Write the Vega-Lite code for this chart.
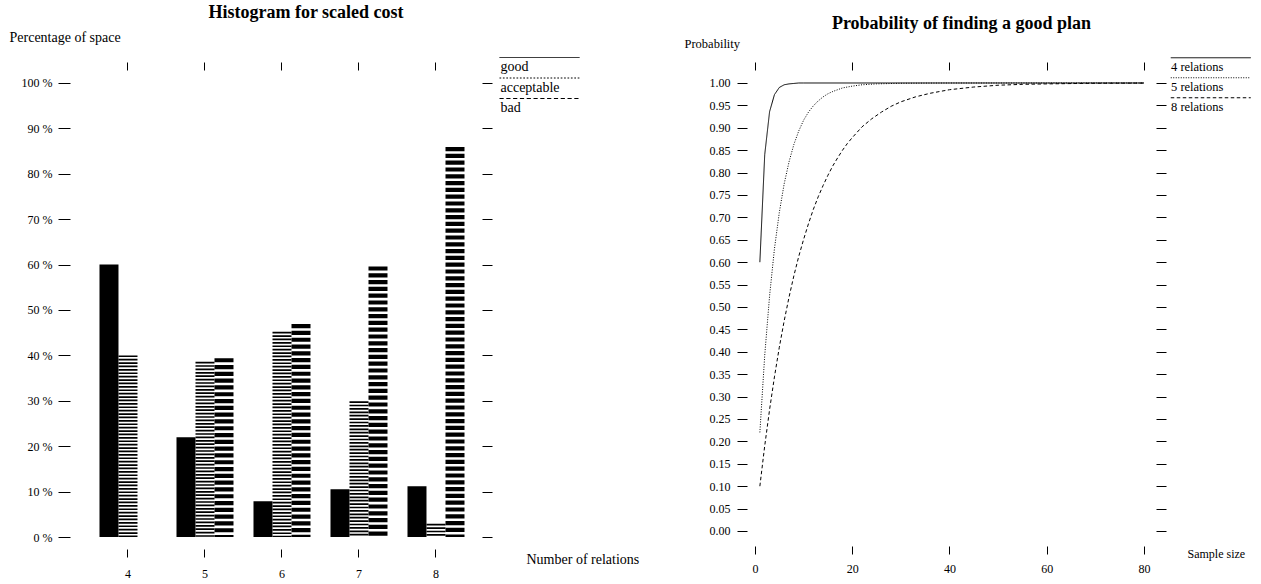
{
  "$schema": "https://vega.github.io/schema/vega-lite/v6.json",
  "background": "white",
  "padding": {"left": 9, "top": 4, "right": 5, "bottom": 0},
  "bounds": "flush",
  "spacing": 265,
  "config": {
    "font": "Liberation Serif",
    "view": {"stroke": null},
    "axis": {
      "domain": false, "grid": false, "tickColor": "black", "tickWidth": 1,
      "labelColor": "black", "labelFont": "Liberation Serif", "labelFontSize": 12,
      "titleColor": "black", "titleFont": "Liberation Serif", "titleFontSize": 12.5, "titleFontWeight": "normal",
      "labelOverlap": false, "labelFlush": false
    },
    "title": {"font": "Liberation Serif", "fontSize": 18, "fontWeight": "bold", "color": "black"},
    "legend": {
      "title": null,
      "orient": "none",
      "symbolType": "M-8,-1.9H8",
      "symbolSize": 100,
      "symbolStrokeWidth": 1,
      "symbolStrokeColor": "black",
      "symbolFillColor": "transparent",
      "labelFont": "Liberation Serif",
      "labelFontSize": 12.5,
      "labelColor": "black",
      "labelOffset": -46,
      "symbolOffset": 40,
      "rowPadding": 1,
      "padding": 0
    }
  },
  "resolve": {"scale": {"strokeDash": "independent"}, "legend": {"strokeDash": "independent"}},
  "hconcat": [
    {
      "title": {"text": "Histogram for scaled cost", "anchor": "middle", "frame": "group", "dx": 30, "offset": 8},
      "width": 412,
      "height": 479,
      "data": {"values": [
        {"n": 4, "cat": "good", "pct": 60},
        {"n": 4, "cat": "acceptable", "pct": 40},
        {"n": 4, "cat": "bad", "pct": 0},
        {"n": 5, "cat": "good", "pct": 22},
        {"n": 5, "cat": "acceptable", "pct": 38.6},
        {"n": 5, "cat": "bad", "pct": 39.4},
        {"n": 6, "cat": "good", "pct": 7.9},
        {"n": 6, "cat": "acceptable", "pct": 45.2},
        {"n": 6, "cat": "bad", "pct": 46.9},
        {"n": 7, "cat": "good", "pct": 10.5},
        {"n": 7, "cat": "acceptable", "pct": 29.9},
        {"n": 7, "cat": "bad", "pct": 59.6},
        {"n": 8, "cat": "good", "pct": 11.2},
        {"n": 8, "cat": "acceptable", "pct": 2.9},
        {"n": 8, "cat": "bad", "pct": 85.9}
      ]},
      "layer": [
        {
          "mark": {"type": "rule", "color": "black", "strokeWidth": 19},
          "encoding": {
            "x": {"field": "n", "type": "ordinal",
              "scale": {"paddingInner": 0, "paddingOuter": 0.1753, "align": 0.722},
              "axis": {"orient": "bottom", "labelAngle": 0, "tickSize": 8, "labelPadding": 11, "bandPosition": 0.5,
                "title": "Number of relations", "titleFontSize": 14, "titleX": 456, "titleY": 10, "titleAlign": "left", "titleBaseline": "middle", "titleAnchor": null}},
            "xOffset": {"field": "cat", "type": "nominal",
              "scale": {"domain": ["good", "acceptable", "bad"], "paddingInner": 0, "paddingOuter": 0.526}},
            "y": {"field": "pct", "type": "quantitative",
              "scale": {"domain": [-2.64, 102.86], "nice": false, "zero": false},
              "axis": {"orient": "left", "values": [0, 10, 20, 30, 40, 50, 60, 70, 80, 90, 100],
                "labelExpr": "datum.value + ' %'", "tickSize": 12, "labelPadding": 6,
                "title": "Percentage of space", "titleFontSize": 14, "titleAngle": 0, "titleX": -61, "titleY": -33,
                "titleAlign": "left", "titleBaseline": "middle", "titleAnchor": null}},
            "y2": {"datum": 0},
            "strokeDash": {"field": "cat", "type": "nominal",
              "scale": {"domain": ["good", "acceptable", "bad"], "range": [[1, 0], [1.7, 1.7], [4.2, 2.6]]},
              "legend": {"legendX": 422.5, "legendY": -10, "labelFontSize": 14, "rowPadding": 1.5,
                "encode": {"symbols": {"update": {"stroke": {"value": "black"}, "strokeWidth": {"value": 1}, "fill": {"value": "transparent"}}}}}}
          }
        },
        {
          "mark": {"type": "bar", "opacity": 0},
          "encoding": {
            "x": {"field": "n", "type": "ordinal",
              "axis": {"orient": "top", "labels": false, "tickSize": 8, "bandPosition": 0.5, "title": null}},
            "xOffset": {"field": "cat", "type": "nominal"},
            "y": {"field": "pct", "type": "quantitative",
              "axis": {"orient": "right", "values": [0, 10, 20, 30, 40, 50, 60, 70, 80, 90, 100], "labels": false, "tickSize": 10, "title": null}},
            "y2": {"datum": 0}
          }
        }
      ],
      "resolve": {"axis": {"x": "independent", "y": "independent"}}
    },
    {
      "title": {"text": "Probability of finding a good plan", "anchor": "middle", "frame": "group", "dx": 10, "offset": 4},
      "width": 409,
      "height": 476,
      "data": {"values": [
        {"s": "4 relations", "n": 1, "p": 0.6},
        {"s": "4 relations", "n": 2, "p": 0.84},
        {"s": "4 relations", "n": 3, "p": 0.936},
        {"s": "4 relations", "n": 4, "p": 0.974},
        {"s": "4 relations", "n": 5, "p": 0.99},
        {"s": "4 relations", "n": 6, "p": 0.996},
        {"s": "4 relations", "n": 7, "p": 0.998},
        {"s": "4 relations", "n": 8, "p": 0.999},
        {"s": "4 relations", "n": 9, "p": 1.0},
        {"s": "4 relations", "n": 10, "p": 1.0},
        {"s": "4 relations", "n": 20, "p": 1.0},
        {"s": "4 relations", "n": 40, "p": 1.0},
        {"s": "4 relations", "n": 60, "p": 1.0},
        {"s": "4 relations", "n": 80, "p": 1.0},
        {"s": "5 relations", "n": 1, "p": 0.22},
        {"s": "5 relations", "n": 2, "p": 0.392},
        {"s": "5 relations", "n": 3, "p": 0.525},
        {"s": "5 relations", "n": 4, "p": 0.63},
        {"s": "5 relations", "n": 5, "p": 0.711},
        {"s": "5 relations", "n": 6, "p": 0.775},
        {"s": "5 relations", "n": 7, "p": 0.824},
        {"s": "5 relations", "n": 8, "p": 0.863},
        {"s": "5 relations", "n": 9, "p": 0.893},
        {"s": "5 relations", "n": 10, "p": 0.917},
        {"s": "5 relations", "n": 11, "p": 0.935},
        {"s": "5 relations", "n": 12, "p": 0.949},
        {"s": "5 relations", "n": 13, "p": 0.96},
        {"s": "5 relations", "n": 14, "p": 0.969},
        {"s": "5 relations", "n": 15, "p": 0.976},
        {"s": "5 relations", "n": 16, "p": 0.981},
        {"s": "5 relations", "n": 18, "p": 0.989},
        {"s": "5 relations", "n": 20, "p": 0.993},
        {"s": "5 relations", "n": 22, "p": 0.996},
        {"s": "5 relations", "n": 25, "p": 0.998},
        {"s": "5 relations", "n": 30, "p": 0.9994},
        {"s": "5 relations", "n": 35, "p": 0.9998},
        {"s": "5 relations", "n": 40, "p": 1.0},
        {"s": "5 relations", "n": 50, "p": 1.0},
        {"s": "5 relations", "n": 60, "p": 1.0},
        {"s": "5 relations", "n": 70, "p": 1.0},
        {"s": "5 relations", "n": 80, "p": 1.0},
        {"s": "8 relations", "n": 1, "p": 0.1},
        {"s": "8 relations", "n": 2, "p": 0.19},
        {"s": "8 relations", "n": 3, "p": 0.271},
        {"s": "8 relations", "n": 4, "p": 0.344},
        {"s": "8 relations", "n": 5, "p": 0.41},
        {"s": "8 relations", "n": 6, "p": 0.469},
        {"s": "8 relations", "n": 7, "p": 0.522},
        {"s": "8 relations", "n": 8, "p": 0.57},
        {"s": "8 relations", "n": 9, "p": 0.613},
        {"s": "8 relations", "n": 10, "p": 0.651},
        {"s": "8 relations", "n": 11, "p": 0.686},
        {"s": "8 relations", "n": 12, "p": 0.718},
        {"s": "8 relations", "n": 13, "p": 0.746},
        {"s": "8 relations", "n": 14, "p": 0.771},
        {"s": "8 relations", "n": 15, "p": 0.794},
        {"s": "8 relations", "n": 16, "p": 0.815},
        {"s": "8 relations", "n": 17, "p": 0.833},
        {"s": "8 relations", "n": 18, "p": 0.85},
        {"s": "8 relations", "n": 19, "p": 0.865},
        {"s": "8 relations", "n": 20, "p": 0.878},
        {"s": "8 relations", "n": 22, "p": 0.902},
        {"s": "8 relations", "n": 24, "p": 0.92},
        {"s": "8 relations", "n": 26, "p": 0.935},
        {"s": "8 relations", "n": 28, "p": 0.948},
        {"s": "8 relations", "n": 30, "p": 0.958},
        {"s": "8 relations", "n": 33, "p": 0.969},
        {"s": "8 relations", "n": 36, "p": 0.977},
        {"s": "8 relations", "n": 40, "p": 0.985},
        {"s": "8 relations", "n": 45, "p": 0.991},
        {"s": "8 relations", "n": 50, "p": 0.995},
        {"s": "8 relations", "n": 55, "p": 0.997},
        {"s": "8 relations", "n": 60, "p": 0.998},
        {"s": "8 relations", "n": 70, "p": 0.9994},
        {"s": "8 relations", "n": 80, "p": 0.9998}
      ]},
      "layer": [
        {
          "mark": {"type": "line", "color": "black", "strokeWidth": 1},
          "encoding": {
            "x": {"field": "n", "type": "quantitative",
              "scale": {"domain": [-1.645, 82.47], "nice": false, "zero": false},
              "axis": {"orient": "bottom", "values": [0, 20, 40, 60, 80], "tickSize": 8, "labelPadding": 9,
                "title": "Sample size", "titleFontSize": 12, "titleX": 440, "titleY": 7, "titleAlign": "left", "titleBaseline": "middle", "titleAnchor": null}},
            "y": {"field": "p", "type": "quantitative",
              "scale": {"domain": [-0.0335, 1.029], "nice": false, "zero": false},
              "axis": {"orient": "left", "values": [0, 0.05, 0.1, 0.15, 0.2, 0.25, 0.3, 0.35, 0.4, 0.45, 0.5, 0.55, 0.6, 0.65, 0.7, 0.75, 0.8, 0.85, 0.9, 0.95, 1],
                "format": ".2f", "tickSize": 10, "labelPadding": 7,
                "title": "Probability", "titleX": -63, "titleY": -27, "titleAngle": 0,
                "titleAlign": "left", "titleBaseline": "middle", "titleAnchor": null}},
            "strokeDash": {"field": "s", "type": "nominal",
              "scale": {"domain": ["4 relations", "5 relations", "8 relations"], "range": [[1, 0], [1, 1.5], [3.5, 2.5]]},
              "legend": {"legendX": 417.5, "legendY": -9,
                "encode": {"symbols": {"update": {"stroke": {"value": "black"}, "strokeWidth": {"value": 1}, "fill": {"value": "transparent"}}}}}}
          }
        },
        {
          "mark": {"type": "point", "opacity": 0},
          "encoding": {
            "x": {"field": "n", "type": "quantitative",
              "axis": {"orient": "top", "values": [0, 20, 40, 60, 80], "labels": false, "tickSize": 8, "title": null}},
            "y": {"field": "p", "type": "quantitative",
              "axis": {"orient": "right", "values": [0, 0.05, 0.1, 0.15, 0.2, 0.25, 0.3, 0.35, 0.4, 0.45, 0.5, 0.55, 0.6, 0.65, 0.7, 0.75, 0.8, 0.85, 0.9, 0.95, 1], "labels": false, "tickSize": 10, "title": null}}
          }
        }
      ],
      "resolve": {"axis": {"x": "independent", "y": "independent"}}
    }
  ]
}
